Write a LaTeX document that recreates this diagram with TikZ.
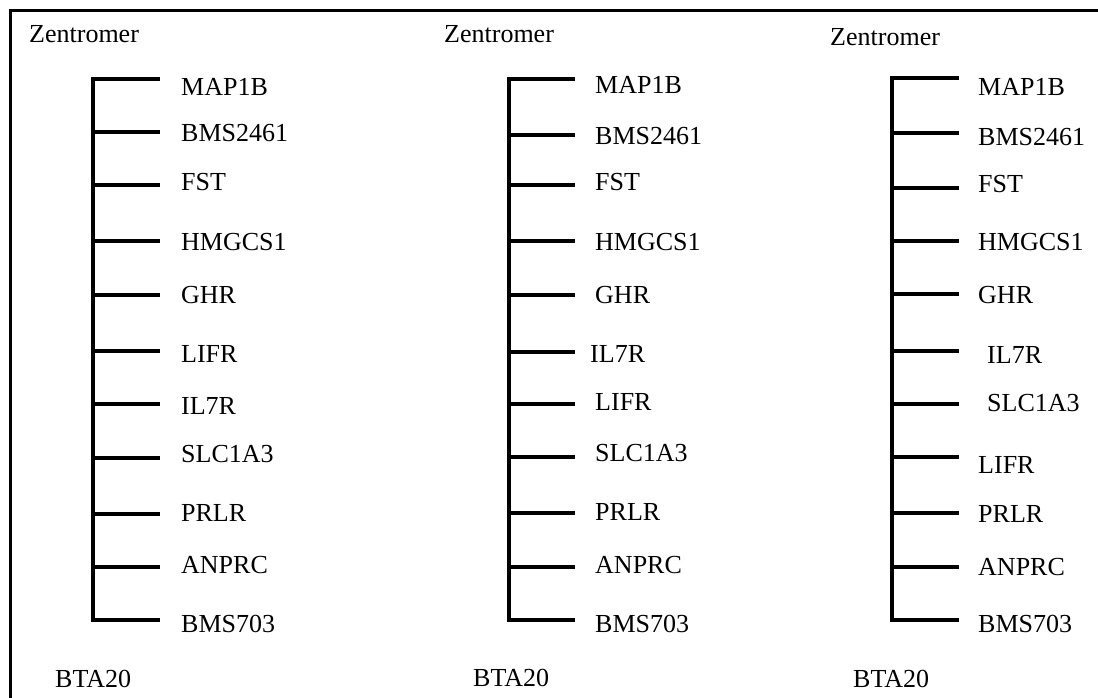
\documentclass[tikz,border=0pt]{standalone}
\usepackage{fontspec}
\setmainfont{Liberation Serif}
\usepackage{tikz}
\usetikzlibrary{positioning}

\begin{document}
\begin{tikzpicture}[x=1pt, y=-1pt,
    every node/.style={font=\fontsize{26pt}{31pt}\selectfont},
    gene/.style={anchor=west, inner sep=0pt, text height=17pt, text depth=0pt},
    title/.style={anchor=base west, inner sep=0pt},
    tick/.style={line width=3.2pt, line cap=rect}]
    \useasboundingbox (0,0) rectangle (1098,698);

    % Frame (top and left only)
    \draw[line width=3pt] (10,698) -- (10,11) -- (1098,11);

    % Headings and footers
    \node[title] (z1) at (29,43) {Zentromer};
    \node[title] (z2) at (444,43) {Zentromer};
    \node[title] (z3) at (830,46) {Zentromer};
    \node[title] (b1) at (55,687) {BTA20};
    \node[title] (b2) at (473,686) {BTA20};
    \node[title] (b3) at (853,687) {BTA20};

    % First map
    \foreach \ty/\ly/\lx/\gname [count=\i] in {79/87/181/MAP1B, 132/133/181/BMS2461,
        185/182/181/FST, 241/242/181/HMGCS1, 295/295/181/GHR, 351/354/181/LIFR,
        404/406/181/IL7R, 458/454/181/SLC1A3, 514/513/181/PRLR, 567/565/181/ANPRC,
        620/624/181/BMS703} {
        \coordinate (ax1-\i) at (93,\ty);
        \coordinate (tk1-\i) at (158,\ty);
        \node[gene] (g1-\i) at (\lx,\ly) {\gname};
        \draw[tick] (ax1-\i) -- (tk1-\i);
    }
    \draw[tick] (ax1-1) -- (ax1-11);

    % Second map
    \foreach \ty/\ly/\lx/\gname [count=\i] in {79/85/595/MAP1B, 135/136/595/BMS2461,
        185/182/595/FST, 241/242/595/HMGCS1, 295/295/595/GHR, 352/354/590/IL7R,
        404/402/595/LIFR, 457/453/595/SLC1A3, 513/512/595/PRLR, 567/565/595/ANPRC,
        620/624/595/BMS703} {
        \coordinate (ax2-\i) at (509,\ty);
        \coordinate (tk2-\i) at (573,\ty);
        \node[gene] (g2-\i) at (\lx,\ly) {\gname};
        \draw[tick] (ax2-\i) -- (tk2-\i);
    }
    \draw[tick] (ax2-1) -- (ax2-11);

    % Third map
    \foreach \ty/\ly/\lx/\gname [count=\i] in {78/87/978/MAP1B, 133/137/978/BMS2461,
        188/184/978/FST, 241/242/978/HMGCS1, 294/295/978/GHR, 351/355/987/IL7R,
        404/403/987/SLC1A3, 457/465/978/LIFR, 513/514/978/PRLR, 567/567/978/ANPRC,
        620/624/978/BMS703} {
        \coordinate (ax3-\i) at (892,\ty);
        \coordinate (tk3-\i) at (957,\ty);
        \node[gene] (g3-\i) at (\lx,\ly) {\gname};
        \draw[tick] (ax3-\i) -- (tk3-\i);
    }
    \draw[tick, line width=4pt] (ax3-1) -- (ax3-11);
\end{tikzpicture}
\end{document}
